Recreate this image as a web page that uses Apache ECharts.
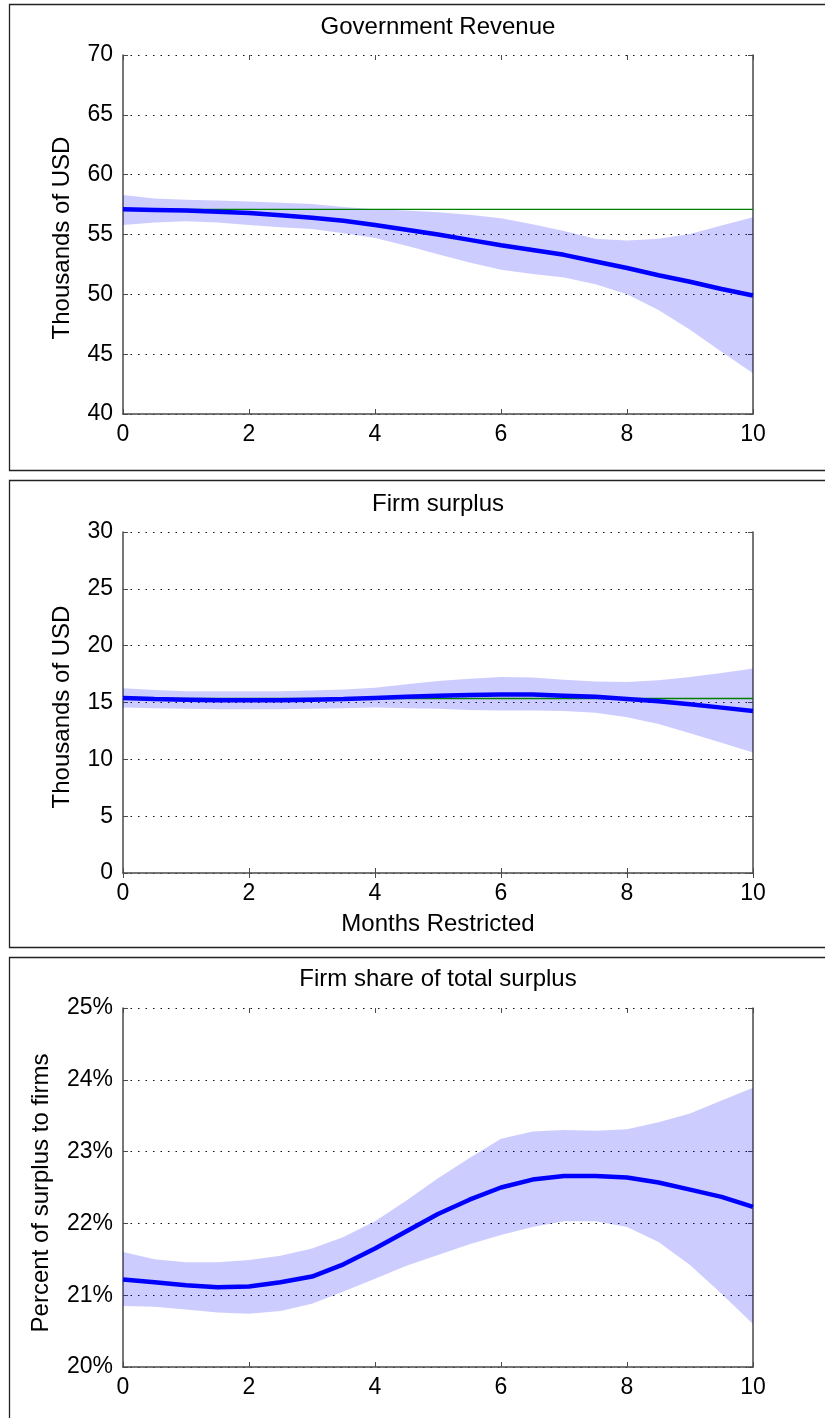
<!DOCTYPE html>
<html>
<head>
<meta charset="utf-8">
<style>
  html, body { margin: 0; padding: 0; background: #ffffff; }
  #chart { width: 825px; height: 1418px; }
</style>
<script src="https://cdn.jsdelivr.net/npm/echarts@6/dist/echarts.min.js"></script>
</head>
<body>
<div id="chart"></div>
<script>
// Months of restriction (shared x values)
const months = [0, 0.5, 1, 1.5, 2, 2.5, 3, 3.5, 4, 4.5, 5, 5.5, 6, 6.5, 7, 7.5, 8, 8.5, 9, 9.5, 10];
const xTicks = [0, 2, 4, 6, 8, 10];

// Government revenue (thousands of USD)
const revenueMean  = [57.1, 57.05, 57.0, 56.9, 56.8, 56.6, 56.4, 56.15, 55.8, 55.4, 55.0, 54.55, 54.1, 53.7, 53.3, 52.75, 52.2, 51.6, 51.05, 50.45, 49.9];
const revenueUpper = [58.3, 58.0, 57.9, 57.85, 57.75, 57.65, 57.55, 57.3, 57.1, 57.0, 56.85, 56.65, 56.35, 55.85, 55.3, 54.65, 54.5, 54.65, 55.05, 55.75, 56.45];
const revenueLower = [55.8, 56.0, 56.1, 56.0, 55.8, 55.6, 55.45, 55.1, 54.7, 54.05, 53.35, 52.65, 52.05, 51.7, 51.4, 50.85, 50.0, 48.7, 47.05, 45.2, 43.4];
const revenueBase  = 57.1;
const revenueTicks = [40, 45, 50, 55, 60, 65, 70];

// Firm surplus (thousands of USD)
const surplusMean  = [15.4, 15.3, 15.25, 15.2, 15.2, 15.2, 15.25, 15.3, 15.4, 15.5, 15.6, 15.65, 15.7, 15.7, 15.6, 15.5, 15.3, 15.1, 14.85, 14.55, 14.25];
const surplusUpper = [16.25, 16.1, 16.0, 16.0, 16.0, 16.0, 16.05, 16.15, 16.3, 16.6, 16.9, 17.1, 17.25, 17.2, 17.0, 16.85, 16.8, 16.95, 17.25, 17.6, 18.0];
const surplusLower = [14.55, 14.5, 14.45, 14.4, 14.4, 14.4, 14.45, 14.5, 14.55, 14.5, 14.45, 14.35, 14.3, 14.3, 14.25, 14.1, 13.7, 13.1, 12.3, 11.45, 10.6];
const surplusBase  = 15.35;
const surplusTicks = [0, 5, 10, 15, 20, 25, 30];

// Firm share of total surplus (percent)
const shareMean  = [21.22, 21.18, 21.14, 21.11, 21.12, 21.18, 21.26, 21.43, 21.65, 21.89, 22.13, 22.33, 22.5, 22.61, 22.66, 22.66, 22.64, 22.57, 22.47, 22.37, 22.23];
const shareUpper = [21.6, 21.5, 21.46, 21.46, 21.49, 21.55, 21.65, 21.81, 22.03, 22.32, 22.63, 22.91, 23.18, 23.28, 23.3, 23.29, 23.31, 23.41, 23.53, 23.71, 23.89];
const shareLower = [20.85, 20.84, 20.8, 20.76, 20.74, 20.78, 20.88, 21.05, 21.23, 21.41, 21.56, 21.71, 21.84, 21.95, 22.03, 22.03, 21.95, 21.74, 21.42, 21.02, 20.6];
const shareTicks = [20, 21, 22, 23, 24, 25];

const titles = ['Government Revenue', 'Firm surplus', 'Firm share of total surplus'];
const yNames = ['Thousands of USD', 'Thousands of USD', 'Percent of surplus to firms'];
const xName = 'Months Restricted';

const FONT = '"Liberation Sans", Arial, Helvetica, sans-serif';
const AXIS_COLOR = '#4a4a4a';
const BLUE = '#0000ff';
const GREEN = '#008000';

const panels = [
  { mean: revenueMean, upper: revenueUpper, lower: revenueLower, base: revenueBase, ticks: revenueTicks, fmt: '{value}',
    grid: { left: 123, top: 55, width: 630, height: 359 } },
  { mean: surplusMean, upper: surplusUpper, lower: surplusLower, base: surplusBase, ticks: surplusTicks, fmt: '{value}',
    grid: { left: 123, top: 532, width: 630, height: 341 } },
  { mean: shareMean, upper: shareUpper, lower: shareLower, base: null, ticks: shareTicks, fmt: '{value}%',
    grid: { left: 123, top: 1008, width: 630, height: 359 } }
];

const pairs = (ys) => months.map((m, i) => [m, ys[i]]);

const grids = [], xAxes = [], yAxes = [], series = [];
panels.forEach((p, k) => {
  grids.push(p.grid);
  const yMin = p.ticks[0], yMax = p.ticks[p.ticks.length - 1];
  const yStep = p.ticks[1] - p.ticks[0];
  const xStep = xTicks[1] - xTicks[0];

  // bottom x axis with labels
  xAxes.push({
    type: 'value', gridIndex: k, position: 'bottom',
    min: xTicks[0], max: xTicks[xTicks.length - 1], interval: xStep,
    axisLine: { show: true, onZero: false, lineStyle: { color: AXIS_COLOR, width: 1.5 } },
    axisTick: { show: true, inside: true, length: 5, lineStyle: { color: AXIS_COLOR, width: 1 } },
    axisLabel: { color: '#000', fontSize: 23, fontFamily: FONT, margin: 9 },
    splitLine: { show: false }
  });
  // top edge: ticks only, the dotted grid line marks the border
  xAxes.push({
    type: 'value', gridIndex: k, position: 'top',
    min: xTicks[0], max: xTicks[xTicks.length - 1], interval: xStep,
    axisLine: { show: false },
    axisTick: { show: true, inside: true, length: 5, lineStyle: { color: AXIS_COLOR, width: 1 } },
    axisLabel: { show: false },
    splitLine: { show: false }
  });
  // left y axis with labels and dotted grid
  yAxes.push({
    type: 'value', gridIndex: k, position: 'left',
    min: yMin, max: yMax, interval: yStep,
    axisLine: { show: true, onZero: false, lineStyle: { color: AXIS_COLOR, width: 1.5 } },
    axisTick: { show: true, inside: true, length: 5, lineStyle: { color: AXIS_COLOR, width: 1 } },
    axisLabel: { color: '#000', fontSize: 23, fontFamily: FONT, margin: 10, formatter: p.fmt },
    splitLine: { show: true, lineStyle: { color: '#111', width: 1.2, type: [1.5, 6] } }
  });
  // right edge of the box
  yAxes.push({
    type: 'value', gridIndex: k, position: 'right',
    min: yMin, max: yMax, interval: yStep,
    axisLine: { show: true, onZero: false, lineStyle: { color: AXIS_COLOR, width: 1.5 } },
    axisTick: { show: true, inside: true, length: 5, lineStyle: { color: AXIS_COLOR, width: 1 } },
    axisLabel: { show: false },
    splitLine: { show: false }
  });

  const xi = 2 * k, yi = 2 * k;
  // confidence band: one polygon along the upper edge and back along the lower edge
  const bandRows = months.map((m, i) => [m, p.lower[i], p.upper[i]]);
  series.push({
    type: 'custom', xAxisIndex: xi, yAxisIndex: yi,
    data: bandRows, encode: { x: 0, y: [1, 2] }, silent: true, z: 2,
    renderItem: (params, api) => {
      if (params.dataIndex !== 0) return null;
      const top = bandRows.map(r => api.coord([r[0], r[2]]));
      const bottom = bandRows.slice().reverse().map(r => api.coord([r[0], r[1]]));
      return {
        type: 'polygon',
        shape: { points: top.concat(bottom) },
        style: { fill: 'rgba(0, 0, 255, 0.2)', stroke: null }
      };
    }
  });
  // baseline level
  if (p.base !== null) {
    series.push({
      type: 'line', xAxisIndex: xi, yAxisIndex: yi,
      data: [[xTicks[0], p.base], [xTicks[xTicks.length - 1], p.base]],
      symbol: 'none', silent: true,
      lineStyle: { color: GREEN, width: 1.3 }, z: 3
    });
  }
  // point estimate
  series.push({
    type: 'line', xAxisIndex: xi, yAxisIndex: yi,
    data: pairs(p.mean), symbol: 'none', silent: true,
    lineStyle: { color: BLUE, width: 4.5 }, z: 4
  });
});

// panel frames, titles and axis names
const graphics = [];
const frames = [
  { y: 4.5, h: 466 },
  { y: 480.5, h: 467 },
  { y: 957.5, h: 480 }
];
frames.forEach(f => {
  graphics.push({
    type: 'rect', shape: { x: 9.5, y: f.y, width: 840, height: f.h },
    style: { fill: 'none', stroke: '#222', lineWidth: 1.3 }, silent: true
  });
});
const titleY = [27, 504, 979];
titles.forEach((t, i) => {
  graphics.push({
    type: 'text', x: 438, y: titleY[i],
    style: { text: t, font: '24px ' + FONT, fill: '#000', textAlign: 'center', textVerticalAlign: 'middle' },
    silent: true
  });
});
const yNamePos = [[62, 238], [62, 707], [41, 1193]];
yNames.forEach((t, i) => {
  graphics.push({
    type: 'text', x: yNamePos[i][0], y: yNamePos[i][1], rotation: Math.PI / 2,
    style: { text: t, font: '24px ' + FONT, fill: '#000', textAlign: 'center', textVerticalAlign: 'middle' },
    silent: true
  });
});
graphics.push({
  type: 'text', x: 438, y: 924,
  style: { text: xName, font: '24px ' + FONT, fill: '#000', textAlign: 'center', textVerticalAlign: 'middle' },
  silent: true
});

const chart = echarts.init(document.getElementById('chart'), null, { renderer: 'canvas' });
chart.setOption({
  animation: false,
  backgroundColor: '#ffffff',
  grid: grids,
  xAxis: xAxes,
  yAxis: yAxes,
  series: series,
  graphic: graphics
});
</script>
</body>
</html>
